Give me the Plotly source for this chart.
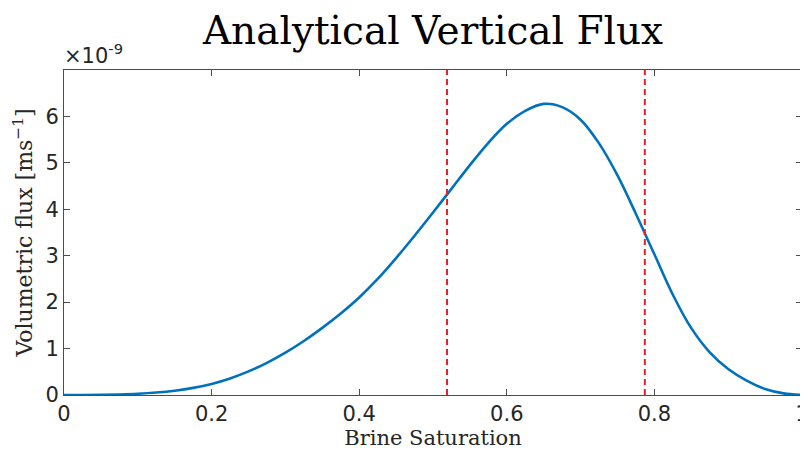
import plotly.graph_objects as go

# Brine saturation samples and volumetric flux (in units of 1e-9 m/s)
saturation = [0.0, 0.025, 0.05, 0.075, 0.1, 0.125, 0.15, 0.175, 0.2, 0.225, 0.25,
              0.275, 0.3, 0.325, 0.35, 0.375, 0.4, 0.425, 0.45, 0.475, 0.5,
              0.525, 0.55, 0.575, 0.6, 0.625, 0.65, 0.675, 0.7, 0.725, 0.75,
              0.775, 0.8, 0.825, 0.85, 0.875, 0.9, 0.925, 0.95, 0.975, 1.0]
flux = [0.0, 0.001, 0.004, 0.012, 0.027, 0.053, 0.093, 0.153, 0.238, 0.356, 0.508,
        0.693, 0.911, 1.163, 1.446, 1.756, 2.101, 2.50, 2.95, 3.43, 3.93,
        4.44, 4.95, 5.43, 5.84, 6.12, 6.27, 6.20, 5.93, 5.42, 4.73,
        3.90, 3.03, 2.16, 1.44, 0.92, 0.56, 0.31, 0.13, 0.035, 0.0]
dashed_lines = [0.519, 0.787]
y_max = 7
x_ticks = [0, 0.2, 0.4, 0.6, 0.8, 1]
x_ticklabels = ["0", "0.2", "0.4", "0.6", "0.8", "1"]
y_ticks = [0, 1, 2, 3, 4, 5, 6]
y_ticklabels = ["0", "1", "2", "3", "4", "5", "6"]

fig = go.Figure()
fig.add_trace(go.Scatter(x=saturation, y=flux, mode="lines",
                         line=dict(color="#0072BD", width=2.6, shape="spline", smoothing=1.0),
                         showlegend=False, hoverinfo="skip"))
for xv in dashed_lines:
    fig.add_trace(go.Scatter(x=[xv, xv], y=[0, y_max], mode="lines",
                             line=dict(color="#E8202A", width=2, dash="6px,4px"),
                             showlegend=False, hoverinfo="skip"))

axis_common = dict(showline=True, linecolor="#4d4d4d", linewidth=1, mirror="allticks",
                   ticks="inside", ticklen=6, tickcolor="#4d4d4d", showgrid=False,
                   zeroline=False, automargin=False, ticklabeloverflow="allow",
                   tickfont=dict(family="DejaVu Sans", size=21, color="#262626"))

# the page body adds an 8px margin, so the figure is 8px smaller than the window
fig.update_layout(
    width=800, height=443,
    margin=dict(l=56, r=6, t=62, b=56),
    paper_bgcolor="white", plot_bgcolor="white",
    title=dict(text="Analytical Vertical Flux", xref="paper", x=0.5, xanchor="center",
               y=0.95, yanchor="middle",
               font=dict(family="DejaVu Serif", size=39, color="#000000")),
    xaxis=dict(range=[0, 1], tickvals=x_ticks, ticktext=x_ticklabels,
               title=dict(text="Brine Saturation", standoff=5,
                          font=dict(family="DejaVu Serif", size=21, color="#262626")),
               **axis_common),
    yaxis=dict(range=[0, y_max], tickvals=y_ticks, ticktext=y_ticklabels,
               title=dict(text="Volumetric flux [ms<sup>−1</sup>]", standoff=6,
                          font=dict(family="DejaVu Serif", size=22, color="#262626")),
               **axis_common),
)
fig.add_annotation(text="×10<sup>-9</sup>", xref="paper", yref="paper", x=0, y=1,
                   xanchor="left", yanchor="bottom", showarrow=False, yshift=0, xshift=-2,
                   font=dict(family="DejaVu Sans", size=21, color="#262626"))

fig.write_html("out.html")
